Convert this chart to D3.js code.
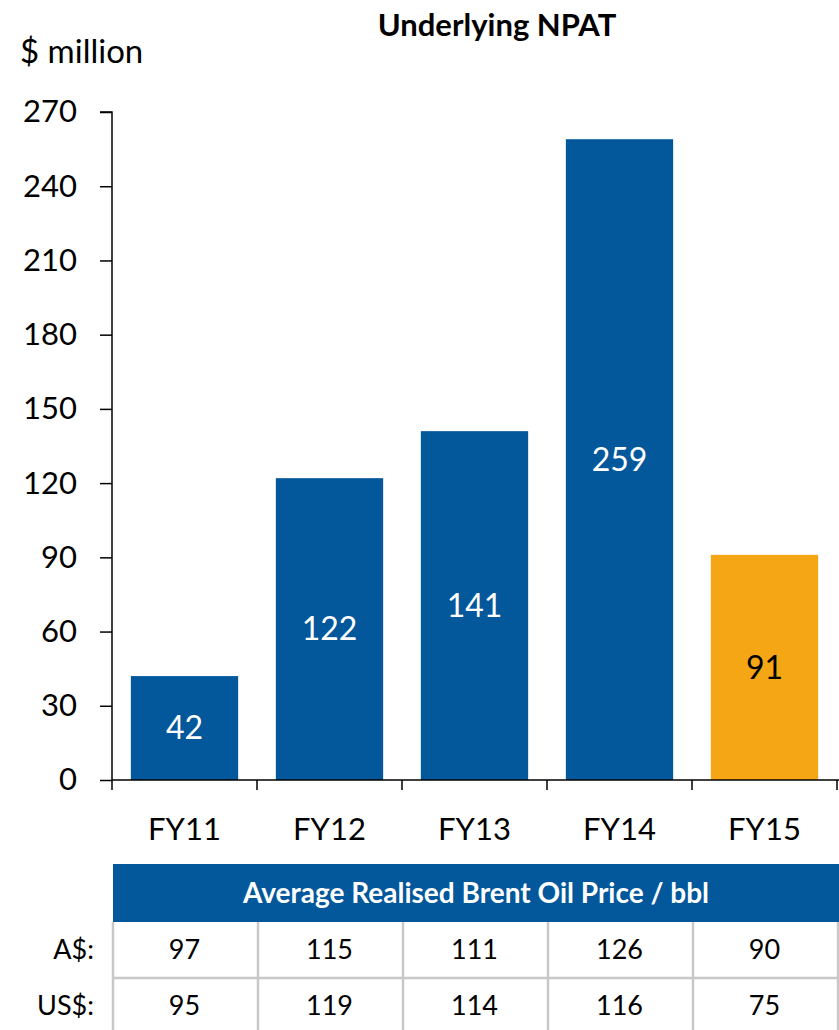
<!DOCTYPE html>
<html>
<head>
<meta charset="utf-8">
<script src="https://cdn.jsdelivr.net/npm/d3@7"></script>
<style>
  body { margin: 0; background: #fff; }
  svg text { font-family: Lato, "Open Sans", sans-serif; }
</style>
</head>
<body>
<div id="chart"></div>
<script>
// chart data
var years = ["FY11", "FY12", "FY13", "FY14", "FY15"];
var npat = [42, 122, 141, 259, 91];
var yTicks = [0, 30, 60, 90, 120, 150, 180, 210, 240, 270];
var priceAud = [97, 115, 111, 126, 90];
var priceUsd = [95, 119, 114, 116, 75];
var rowLabels = ["A$:", "US$:"];

var svgWidth = 839;
var svgHeight = 1030;
var margin = {top: 112, left: 112, bottom: 250};
var plotBottom = 780;

var blue = "#03579b";
var orange = "#f5a614";

var svg = d3.select("#chart")
  .append("svg")
  .attr("width", svgWidth)
  .attr("height", svgHeight);

var xScale = d3.scaleBand()
  .domain(years)
  .range([margin.left, margin.left + 145 * 5])
  .paddingInner(0.26)
  .paddingOuter(0.13);

var yScale = d3.scaleLinear()
  .domain([0, 270])
  .range([plotBottom, margin.top]);

// title + unit
svg.append("text")
  .attr("x", 497).attr("y", 36)
  .attr("text-anchor", "middle")
  .attr("font-size", 31).attr("font-weight", "bold")
  .text("Underlying NPAT");

svg.append("text")
  .attr("x", 20).attr("y", 63)
  .attr("font-size", 33)
  .text("$ million");

// bars
svg.selectAll("rect.bar")
  .data(npat)
  .enter()
  .append("rect")
  .attr("class", "bar")
  .attr("x", (d, i) => xScale(years[i]))
  .attr("y", d => yScale(d))
  .attr("width", xScale.bandwidth())
  .attr("height", d => plotBottom - yScale(d))
  .attr("fill", (d, i) => i == 4 ? orange : blue);

svg.selectAll("text.barLabel")
  .data(npat)
  .enter()
  .append("text")
  .attr("class", "barLabel")
  .attr("x", (d, i) => xScale(years[i]) + xScale.bandwidth() / 2)
  .attr("y", d => (yScale(d) + plotBottom) / 2)
  .attr("dy", "0.35em")
  .attr("text-anchor", "middle")
  .attr("font-size", 32)
  .attr("fill", (d, i) => i == 4 ? "#000" : "#fff")
  .text(d => d);

// y axis
var yAxis = d3.axisLeft(yScale).tickValues(yTicks).tickSize(12).tickPadding(23);
var gy = svg.append("g")
  .attr("transform", `translate(${margin.left},0)`)
  .call(yAxis);
gy.select(".domain").attr("stroke", "#000").attr("stroke-width", 1.5).attr("d", `M-12,${margin.top}H0V${plotBottom}`);
gy.selectAll(".tick line").attr("stroke-width", 1.5);
gy.selectAll(".tick text").attr("font-size", 31).attr("fill", "#000")
  .style("font-family", "Lato, 'Open Sans', sans-serif");

// x axis line + category ticks
svg.append("line")
  .attr("x1", margin.left).attr("x2", 839)
  .attr("y1", plotBottom).attr("y2", plotBottom)
  .attr("stroke", "#000").attr("stroke-width", 1.5);

var edges = years.map(y => xScale(y) - xScale.step() * xScale.paddingOuter());
edges.push(margin.left + xScale.step() * 5);
svg.selectAll("line.xtick")
  .data(edges)
  .enter()
  .append("line")
  .attr("x1", d => d).attr("x2", d => d)
  .attr("y1", plotBottom).attr("y2", plotBottom + 10)
  .attr("stroke", "#000").attr("stroke-width", 1.5);

svg.selectAll("text.xLabel")
  .data(years)
  .enter()
  .append("text")
  .attr("x", d => xScale(d) + xScale.bandwidth() / 2)
  .attr("y", 840)
  .attr("text-anchor", "middle")
  .attr("font-size", 31)
  .text(d => d);

// price table
var tableLeft = 113, headerTop = 864, headerBottom = 922, rowH = 56;

svg.append("rect")
  .attr("x", tableLeft).attr("y", headerTop)
  .attr("width", 839 - tableLeft).attr("height", headerBottom - headerTop)
  .attr("fill", blue);

svg.append("text")
  .attr("x", 476).attr("y", (headerTop + headerBottom) / 2)
  .attr("dy", "0.35em")
  .attr("text-anchor", "middle")
  .attr("font-size", 28).attr("font-weight", "bold")
  .attr("fill", "#fff")
  .text("Average Realised Brent Oil Price / bbl");

var rows = [priceAud, priceUsd];
rows.forEach(function(row, r) {
  var top = headerBottom + r * rowH;
  svg.append("text")
    .attr("x", 94).attr("y", top + rowH / 2)
    .attr("dy", "0.35em")
    .attr("text-anchor", "end")
    .attr("font-size", 27)
    .text(rowLabels[r]);
  svg.selectAll(null)
    .data(row)
    .enter()
    .append("text")
    .attr("x", (d, i) => xScale(years[i]) + xScale.bandwidth() / 2)
    .attr("y", top + rowH / 2)
    .attr("dy", "0.35em")
    .attr("text-anchor", "middle")
    .attr("font-size", 27)
    .text(d => d);
});

// grid lines of table
var grey = "#c8c8c8";
svg.selectAll("line.vgrid")
  .data(edges)
  .enter()
  .append("line")
  .attr("x1", d => d + 1).attr("x2", d => d + 1)
  .attr("y1", headerBottom).attr("y2", svgHeight)
  .attr("stroke", grey).attr("stroke-width", 2.5);

svg.append("line")
  .attr("x1", tableLeft).attr("x2", 839)
  .attr("y1", headerBottom + rowH).attr("y2", headerBottom + rowH)
  .attr("stroke", grey).attr("stroke-width", 2.5);
</script>
</body>
</html>
